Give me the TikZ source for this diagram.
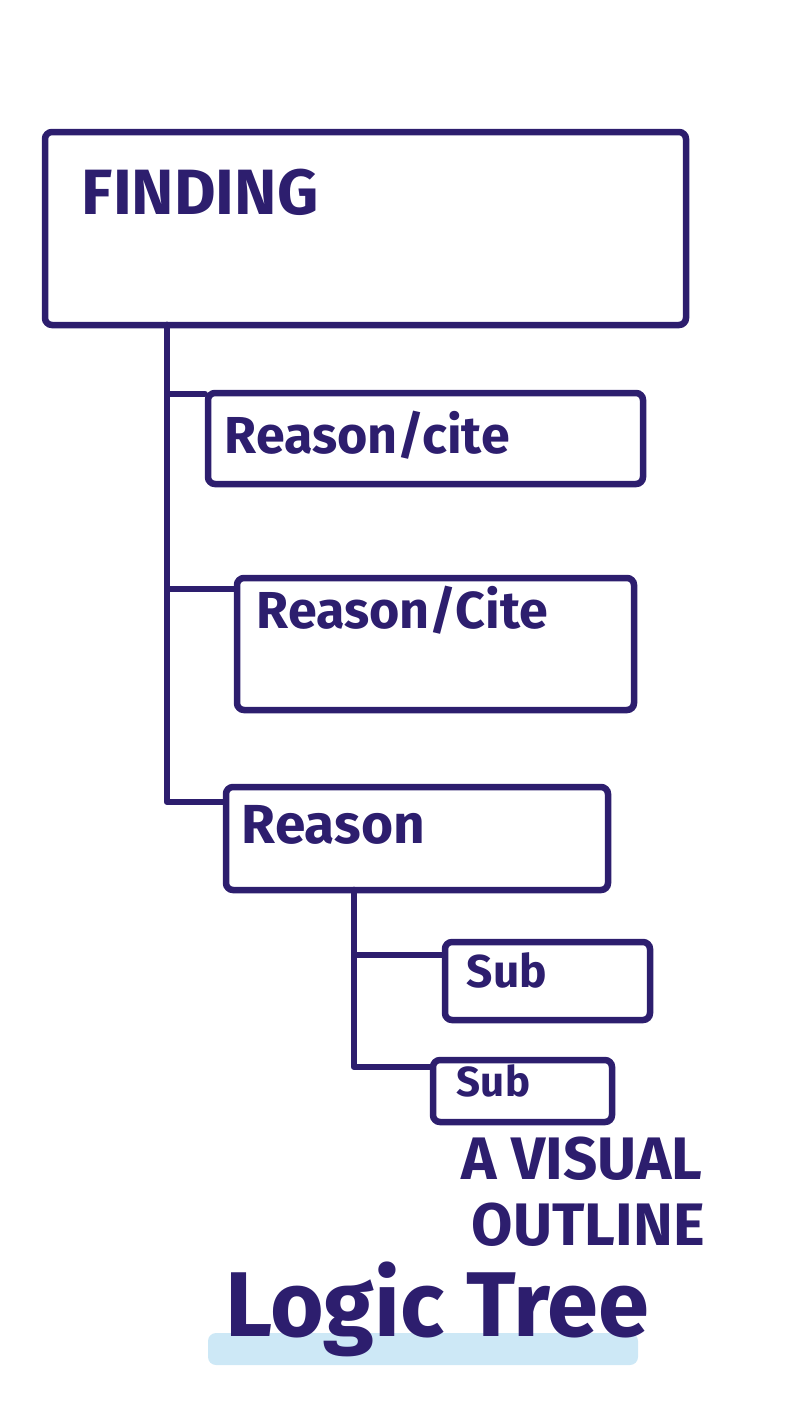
\documentclass[tikz,border=0pt]{standalone}
\usepackage{fontspec}
\setmainfont{Fira Sans}
\usetikzlibrary{positioning}
\definecolor{ink}{RGB}{45,30,110}
\definecolor{hilite}{RGB}{205,232,246}
\tikzset{
  box/.style={draw=ink, line width=6.5pt, rounded corners=7pt, inner sep=0pt},
  link/.style={draw=ink, line width=6.5pt, line join=round, line cap=round},
  elbow/.style={to path={|- (\tikztotarget)}},
  lbl/.style={text=ink, inner sep=0pt, font=\bfseries\fontsize{#1}{#1}\selectfont}
}

\begin{document}
\begin{tikzpicture}[x=1pt, y=-1pt]
 \useasboundingbox (0,0) rectangle (800,1422);
 % the outline boxes
 \node[box, minimum width=641pt, minimum height=193pt] (finding) at (365.5,228.5) {};
 \node[box, minimum width=435pt, minimum height=91pt] (cite1) at (425.5,438.5) {};
 \node[box, minimum width=397pt, minimum height=132pt] (cite2) at (435.5,644) {};
 \node[box, minimum width=382pt, minimum height=103pt] (reason) at (417,838.5) {};
 \node[box, minimum width=205pt, minimum height=78pt] (sub1) at (547.5,981) {};
 \node[box, minimum width=179pt, minimum height=62pt] (sub2) at (522.5,1091) {};
 % texts in the boxes
 \node[lbl=64, below right=40pt and 40pt of finding.north west] (findingtxt) {FINDING};
 \node[lbl=52, below right=21pt and 20pt of cite1.north west] (cite1txt) {Reason/cite};
 \node[lbl=52, below right=11pt and 23pt of cite2.north west] (cite2txt) {Reason/Cite};
 \node[lbl=55, below right=21pt and 19pt of reason.north west] (reasontxt) {Reason};
 \node[lbl=46, below right=14pt and 25pt of sub1.north west] (sub1txt) {Sub};
 \node[lbl=42, below right=8pt and 27pt of sub2.north west] (sub2txt) {Sub};
 % caption
 \node[lbl=60, below right=11pt and 32pt of sub2.south west] (visual) {A VISUAL};
 \node[lbl=60, below right=22pt and 10pt of visual.south west] (outline) {OUTLINE};
 \fill[hilite, rounded corners=8pt] (208,1333) rectangle (638,1365);
 \node[lbl=92, anchor=north west] (title) at (225,1262) {Logic Tree};
 % links
 \coordinate (t0) at (167,325);
 \coordinate (t1) at (354,890);
 \path[link]
  (t0) edge[elbow] ([yshift=-4pt]cite1.north west)
       edge[elbow] ([yshift=-14pt]cite2.north west)
       edge[elbow] ([yshift=-18pt]reason.north west)
  (t1) edge[elbow] ([yshift=-16pt]sub1.north west)
       edge[elbow] ([yshift=-10pt]sub2.north west);
\end{tikzpicture}
\end{document}
